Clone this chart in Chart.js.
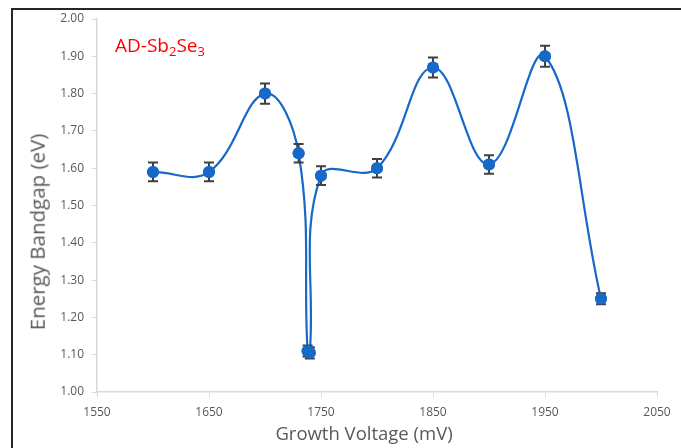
<!DOCTYPE html>
<html>
<head>
<meta charset="utf-8">
<script src="https://cdn.jsdelivr.net/npm/chart.js@4/dist/chart.umd.min.js"></script>
<style>
  html, body { margin: 0; padding: 0; background: #fff; }
  #wrap { position: relative; width: 681px; height: 448px; overflow: hidden; font-family: "Open Sans", sans-serif; }
  #frame { position: absolute; left: 11px; top: 8px; width: 700px; height: 470px; border: 2px solid #262626; box-sizing: border-box; }
  #chart { position: absolute; left: 0; top: 0; }
  #label { position: absolute; left: 115px; top: 34px; color: #ff0000; font-size: 19px; line-height: 1.2; }
  #label sub { font-size: 13px; vertical-align: -4px; line-height: 0; }
  .axis-title { position: absolute; color: #595959; white-space: nowrap; line-height: 1; }
  #xTitle { left: 364px; top: 433px; font-size: 18.5px; transform: translate(-50%, -50%); }
  #yTitle { left: 37px; top: 232px; font-size: 20.5px; transform: translate(-50%, -50%) rotate(-90deg); }
</style>
</head>
<body>
<div id="wrap">
  <div id="frame"></div>
  <canvas id="chart" width="681" height="448"></canvas>
  <div id="label">AD-Sb<sub>2</sub>Se<sub>3</sub></div>
  <div class="axis-title" id="xTitle">Growth Voltage (mV)</div>
  <div class="axis-title" id="yTitle">Energy Bandgap (eV)</div>
</div>
<script>
// Data
const voltages = [1600, 1650, 1700, 1730, 1738, 1740, 1750, 1800, 1850, 1900, 1950, 2000];
const bandgaps = [1.59, 1.59, 1.80, 1.64, 1.11, 1.105, 1.58, 1.60, 1.87, 1.61, 1.90, 1.25];
const errors   = [0.025, 0.025, 0.027, 0.025, 0.015, 0.015, 0.025, 0.025, 0.027, 0.025, 0.028, 0.015];
const xTicks = [1550, 1650, 1750, 1850, 1950, 2050];
const yTicks = [1.00, 1.10, 1.20, 1.30, 1.40, 1.50, 1.60, 1.70, 1.80, 1.90, 2.00];

const BLUE = '#1669c9';
const AXIS = '#d9d9d9';
const TEXT = '#595959';

// draw error bars through the chart scales
const errorBars = {
    id: 'errorBars',
    afterDatasetsDraw(chart) {
        const { ctx, scales: { x, y } } = chart;
        ctx.save();
        ctx.strokeStyle = '#404040';
        ctx.lineWidth = 2;
        voltages.forEach((v, i) => {
            const px = x.getPixelForValue(v);
            const top = y.getPixelForValue(bandgaps[i] + errors[i]);
            const bot = y.getPixelForValue(bandgaps[i] - errors[i]);
            ctx.beginPath();
            ctx.moveTo(px, top); ctx.lineTo(px, bot);
            ctx.moveTo(px - 5, top); ctx.lineTo(px + 5, top);
            ctx.moveTo(px - 5, bot); ctx.lineTo(px + 5, bot);
            ctx.stroke();
        });
        ctx.restore();
        // redraw points on top of the bars
        const meta = chart.getDatasetMeta(0);
        meta.data.forEach(pt => pt.draw(ctx, chart.chartArea));
    }
};

new Chart(document.getElementById('chart'), {
    type: 'scatter',
    data: {
        datasets: [{
            data: voltages.map((v, i) => ({ x: v, y: bandgaps[i] })),
            showLine: true,
            borderColor: BLUE,
            borderWidth: 2.2,
            tension: 0.4,
            pointRadius: 6,
            pointBackgroundColor: BLUE,
            pointBorderColor: BLUE,
            pointBorderWidth: 0
        }]
    },
    options: {
        responsive: false,
        animation: false,
        layout: { padding: { left: 28, right: 24, top: 19, bottom: 0 } },
        plugins: { legend: { display: false }, tooltip: { enabled: false } },
        scales: {
            x: {
                type: 'linear',
                min: 1550, max: 2050,
                afterBuildTicks: s => { s.ticks = xTicks.map(v => ({ value: v })); },
                afterFit: s => { s.height = 56; },
                grid: { drawOnChartArea: false, drawTicks: true, tickLength: 5, color: AXIS },
                border: { color: AXIS, width: 1.5 },
                ticks: { color: TEXT, font: { family: 'Open Sans', size: 12 }, padding: 8, callback: v => String(v) }
            },
            y: {
                min: 1, max: 2,
                afterBuildTicks: s => { s.ticks = yTicks.map(v => ({ value: v })); },
                afterFit: s => { s.width = 69; },
                grid: { drawOnChartArea: false, drawTicks: true, tickLength: 5, color: AXIS },
                border: { color: AXIS, width: 1.5 },
                ticks: { color: TEXT, font: { family: 'Open Sans', size: 12 }, padding: 8, callback: v => v.toFixed(2) }
            }
        }
    },
    plugins: [errorBars]
});
</script>
</body>
</html>
